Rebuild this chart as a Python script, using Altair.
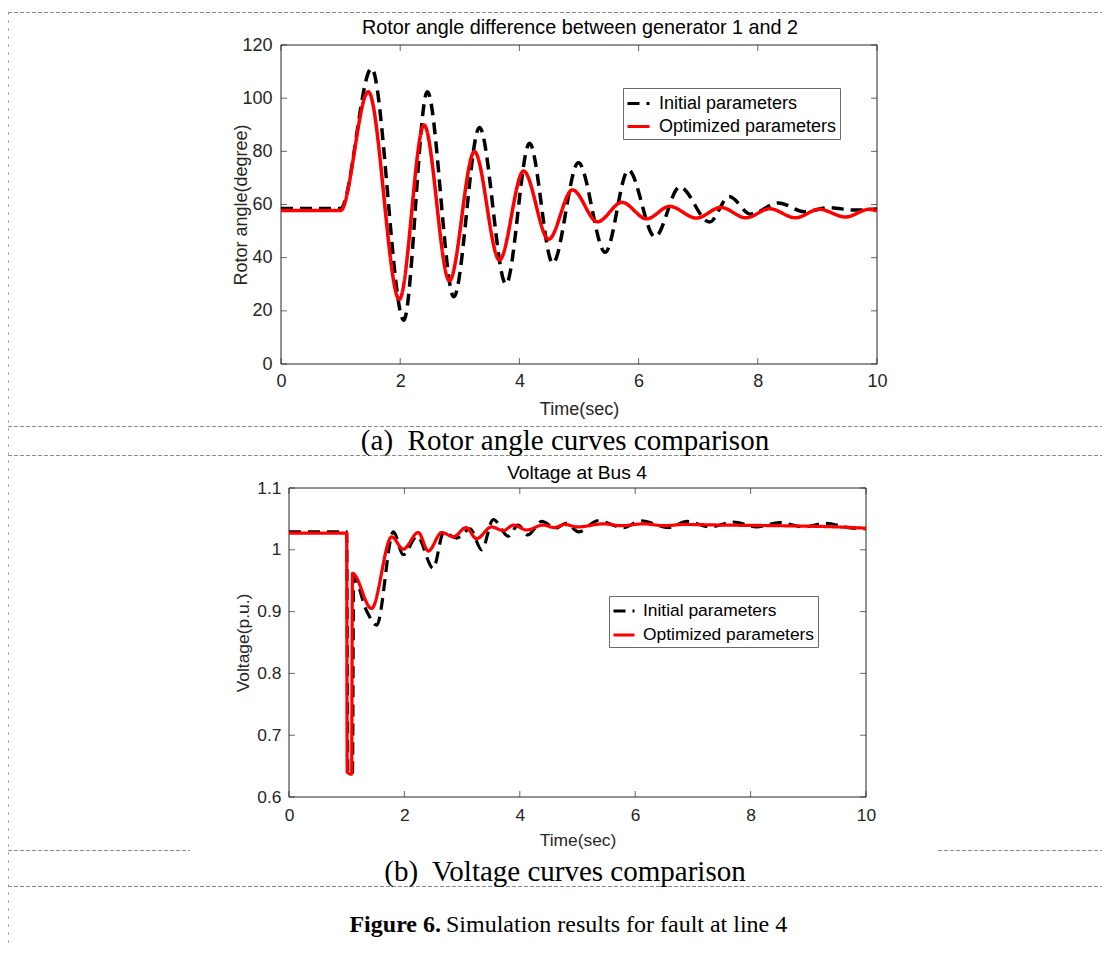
import altair as alt
import pandas as pd

# ---------------- data ----------------
series_names = ["Initial parameters", "Optimized parameters"]
series_colors = ["#000000", "#ff0000"]

# (a) rotor angle difference between generator 1 and 2
angle_time_initial = [0, 1.0, 1.52, 2.06, 2.455, 2.90, 3.33, 3.775, 4.17, 4.56, 4.99, 5.44,
                      5.83, 6.275, 6.69, 7.19, 7.52, 7.88, 8.35, 8.78, 9.2, 9.62, 10]
angle_initial = [58.5, 58.5, 111.2, 16.5, 102.4, 25.3, 89.0, 30.1, 83.0, 37.9, 75.7, 42.0,
                 73.0, 47.8, 66.6, 53.4, 63.0, 56.4, 60.6, 57.3, 58.8, 57.9, 58.3]
angle_time_opt = [0, 1.0, 1.465, 1.985, 2.40, 2.825, 3.245, 3.665, 4.07, 4.49, 4.89, 5.31,
                  5.72, 6.135, 6.52, 6.97, 7.38, 7.80, 8.20, 8.63, 9.03, 9.47, 9.87, 10]
angle_opt = [57.7, 57.7, 102.4, 24.3, 89.9, 31.3, 79.9, 39.1, 72.6, 46.9, 65.5, 53.5,
             60.8, 54.6, 59.3, 54.9, 58.9, 55.0, 58.4, 55.0, 58.2, 55.3, 58.2, 57.6]

# (b) voltage at bus 4
volt_time_initial = [0, 1.0, 1.02, 1.10, 1.12, 1.35, 1.52, 1.81, 1.98, 2.22, 2.50, 2.68,
                     2.906, 3.137, 3.34, 3.54, 3.80, 3.97, 4.14, 4.38, 4.62, 4.80, 5.02,
                     5.35, 5.80, 6.10, 6.58, 6.90, 7.30, 7.70, 8.10, 8.50, 8.93, 9.30, 9.70, 10]
volt_initial = [1.029, 1.029, 0.640, 0.637, 0.955, 0.900, 0.878, 1.029, 0.992, 1.022, 0.970,
                1.028, 1.019, 1.034, 1.000, 1.049, 1.022, 1.040, 1.024, 1.046, 1.035, 1.043,
                1.029, 1.047, 1.036, 1.047, 1.036, 1.046, 1.037, 1.045, 1.037, 1.044, 1.037,
                1.043, 1.036, 1.034]
volt_time_opt = [0, 1.0, 1.008, 1.085, 1.10, 1.43, 1.78, 1.98, 2.24, 2.415, 2.646, 2.85,
                 3.07, 3.25, 3.51, 3.715, 3.89, 4.12, 4.40, 4.60, 4.78, 5.0, 5.45, 5.75,
                 6.15, 6.5, 6.85, 7.5, 8.5, 9.5, 10]
volt_opt = [1.027, 1.027, 0.640, 0.637, 0.962, 0.905, 1.021, 1.001, 1.028, 0.998, 1.028,
            1.021, 1.036, 1.018, 1.037, 1.031, 1.040, 1.032, 1.040, 1.036, 1.041, 1.037,
            1.042, 1.039, 1.042, 1.039, 1.041, 1.040, 1.039, 1.037, 1.035]

time_ticks = [0, 2, 4, 6, 8, 10]
angle_ticks = [0, 20, 40, 60, 80, 100, 120]
volt_ticks = [0.6, 0.7, 0.8, 0.9, 1.0, 1.1]

title_a = "Rotor angle difference between generator 1 and 2"
title_b = "Voltage at Bus 4"
xlabel = "Time(sec)"
ylabel_a = "Rotor angle(degree)"
ylabel_b = "Voltage(p.u.)"
caption_a = "(a)\u00a0 Rotor angle curves comparison"
caption_b = "(b)\u00a0 Voltage curves comparison"
fig_bold = "Figure 6."
fig_rest = "Simulation results for fault at line 4"

# ---------------- layout ----------------
W, H = 1094, 935
SANS = "Liberation Sans"
SERIF = "Liberation Serif"
AX = "#262626"
SEP = "#8c8c8c"
one = pd.DataFrame({"k": [0]})


def panel(t_i, v_i, t_o, v_o, ydom, xr, yr, yt, yfmt, ytitle, fs, lw,
          legx, legy, symlen, laboff, rowpad, padx, pady, tity, titx, tick):
    xs = alt.Scale(domain=[0, 10], range=xr, nice=False, zero=False)
    ys = alt.Scale(domain=ydom, range=yr, nice=False, zero=False)
    cs = alt.Scale(domain=series_names, range=series_colors)
    ds = alt.Scale(domain=series_names, range=[[12, 7], [1, 0]])
    leg = alt.Legend(title=None, orient="none", legendX=legx, legendY=legy,
                     direction="vertical", symbolType="stroke",
                     symbolSize=symlen * symlen, symbolStrokeWidth=3,
                     labelFont=SANS, labelFontSize=fs, labelColor="#000000",
                     labelOffset=laboff, labelLimit=400, rowPadding=rowpad,
                     padding=3, strokeColor="#6b6b6b", fillColor="#ffffff",
                     cornerRadius=0)
    xaxis = alt.Axis(orient="bottom", offset=yr[0] - H, values=time_ticks, format="d",
                     grid=False, domain=False, ticks=False, tickSize=0,
                     labelPadding=padx, labelFont=SANS, labelFontSize=fs,
                     labelColor=AX, labelFlush=False, labelOverlap=False,
                     title=xlabel, titleFont=SANS, titleFontSize=fs,
                     titleFontWeight="normal", titleColor=AX, titleY=tity,
                     titleBaseline="middle")
    yaxis = alt.Axis(orient="left", offset=-xr[0], values=yt, format=yfmt,
                     grid=False, domain=False, ticks=False, tickSize=0,
                     labelPadding=pady, labelFont=SANS, labelFontSize=fs,
                     labelColor=AX, labelFlush=False, labelOverlap=False,
                     title=ytitle, titleFont=SANS, titleFontSize=fs,
                     titleFontWeight="normal", titleColor=AX, titleX=titx,
                     titleBaseline="middle")

    box = alt.Chart(one).mark_rect(fillOpacity=0, stroke=AX, strokeWidth=1).encode(
        x=alt.XDatum(0, scale=xs, axis=xaxis), x2=alt.X2Datum(10),
        y=alt.YDatum(ydom[0], scale=ys, axis=yaxis), y2=alt.Y2Datum(ydom[1]))

    dfx = pd.DataFrame({"tick": time_ticks})
    dfy = pd.DataFrame({"tick": yt})
    xt_bot = alt.Chart(dfx).mark_tick(orient="vertical", size=tick, thickness=1,
                                      color=AX, yOffset=-tick / 2).encode(
        x=alt.X("tick:Q", axis=xaxis, title=xlabel),
        y=alt.YDatum(ydom[0], axis=yaxis))
    xt_top = alt.Chart(dfx).mark_tick(orient="vertical", size=tick, thickness=1,
                                      color=AX, yOffset=tick / 2).encode(
        x=alt.X("tick:Q", axis=xaxis, title=xlabel),
        y=alt.YDatum(ydom[1], axis=yaxis))
    yt_left = alt.Chart(dfy).mark_tick(orient="horizontal", size=tick, thickness=1,
                                       color=AX, xOffset=tick / 2).encode(
        y=alt.Y("tick:Q", axis=yaxis, title=ytitle),
        x=alt.XDatum(0, axis=xaxis))
    yt_right = alt.Chart(dfy).mark_tick(orient="horizontal", size=tick, thickness=1,
                                        color=AX, xOffset=-tick / 2).encode(
        y=alt.Y("tick:Q", axis=yaxis, title=ytitle),
        x=alt.XDatum(10, axis=xaxis))

    df_i = pd.DataFrame({"t": t_i, "v": v_i, "series": series_names[0]})
    df_o = pd.DataFrame({"t": t_o, "v": v_o, "series": series_names[1]})

    def line(df):
        return alt.Chart(df).mark_line(strokeWidth=lw, interpolate="monotone",
                                       strokeCap="butt").encode(
            x=alt.X("t:Q", scale=xs, axis=xaxis, title=xlabel),
            y=alt.Y("v:Q", scale=ys, axis=yaxis, title=ytitle),
            color=alt.Color("series:N", scale=cs, legend=leg),
            strokeDash=alt.StrokeDash("series:N", scale=ds, legend=leg))

    return alt.layer(box, xt_bot, xt_top, yt_left, yt_right, line(df_i), line(df_o))


top = panel(angle_time_initial, angle_initial, angle_time_opt, angle_opt,
            [0, 120], [273, 869], [356, 37], angle_ticks, "d", ylabel_a,
            18, 3.5, 615, 80, 22, 8, 1, 8, 9, 45, -40, 6)
bottom = panel(volt_time_initial, volt_initial, volt_time_opt, volt_opt,
               [0.6, 1.1], [281, 858], [789, 480], volt_ticks, ".2~g", ylabel_b,
               17.4, 3.2, 601, 588, 21, 7, 3, 9, 8, 43, -46, 6)


def rule(x1, x2, y1, y2, dash, color=SEP):
    return alt.Chart(one).mark_rule(color=color, strokeWidth=1, strokeDash=dash).encode(
        x=alt.value(x1), x2=alt.value(x2), y=alt.value(y1), y2=alt.value(y2))


def text(s, x, y, size, font=SANS, weight="normal", align="center",
         baseline="middle", color="#000000"):
    return alt.Chart(pd.DataFrame({"s": [s]})).mark_text(
        font=font, fontSize=size, fontWeight=weight, align=align,
        baseline=baseline, color=color).encode(
        x=alt.value(x), y=alt.value(y), text="s:N")


decor = [
    rule(0, W, 4.5, 4.5, [4, 2]),
    rule(0.5, 0.5, 4.5, H, [2, 6]),
    rule(0, W, 418.5, 418.5, [4, 2]),
    rule(0, W, 447.5, 447.5, [4, 2]),
    rule(0, 182, 842.5, 842.5, [4, 2]),
    rule(930, W, 842.5, 842.5, [4, 2]),
    rule(0, W, 878.5, 878.5, [4, 2]),
    text(title_a, 572, 20, 19.8),
    text(title_b, 569, 465, 19.2),
    text(caption_a, 557, 442, 29, font=SERIF, baseline="alphabetic"),
    text(caption_b, 557, 873, 29, font=SERIF, baseline="alphabetic"),
    text(fig_bold, 433, 924, 24, font=SERIF, weight="bold", align="right",
         baseline="alphabetic"),
    text(fig_rest, 438, 924, 24, font=SERIF, align="left", baseline="alphabetic"),
]

chart = alt.layer(*decor, top, bottom).resolve_scale(
    x="independent", y="independent", color="independent", strokeDash="independent"
).properties(
    width=W, height=H, padding=0, autosize=alt.AutoSizeParams(type="none"),
    background="#ffffff"
).configure_view(strokeWidth=0)

chart.save("out.html", embed_options={"renderer": "svg", "actions": False})
